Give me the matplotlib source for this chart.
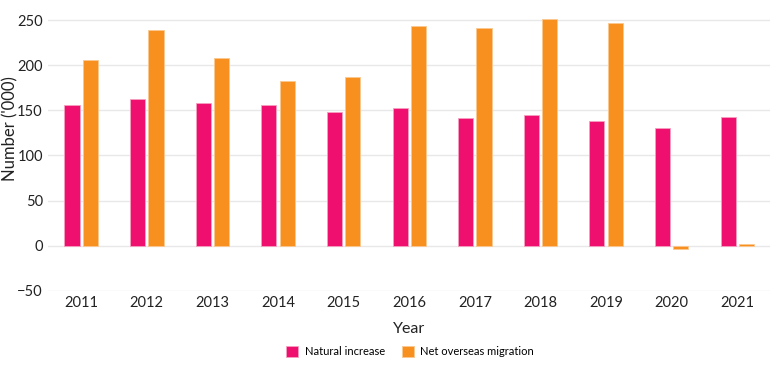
import matplotlib.pyplot as plt
import numpy as np

plt.rcParams["font.family"] = ["Lato", "DejaVu Sans"]

years = ["2011", "2012", "2013", "2014", "2015", "2016", "2017", "2018", "2019", "2020", "2021"]
natural_increase = [156, 163, 158, 156, 148, 153, 142, 145, 138, 130, 143]
net_overseas = [206, 239, 208, 182, 187, 243, 241, 251, 247, -4, 2]
yticks = [-50, 0, 50, 100, 150, 200, 250]

PINK = "#ee0f6e"
ORANGE = "#f7901e"

fig = plt.figure(figsize=(7.81, 3.71), dpi=100)
ax = fig.add_axes([0.062, 0.216, 0.924, 0.742])

x = np.arange(len(years))
w = 0.23
off = 0.14
ax.bar(x - off, natural_increase, w, color=PINK, edgecolor="#f6a0c0", linewidth=0.6,
       label="Natural increase", zorder=3)
ax.bar(x + off, net_overseas, w, color=ORANGE, edgecolor="#fbc890", linewidth=0.6,
       label="Net overseas migration", zorder=3)

ax.set_xlim(-0.5, len(years) - 0.5)
ax.set_ylim(-50, 255)
ax.set_xticks(x)
ax.set_xticklabels(years)
ax.set_yticks(yticks)
ax.grid(axis="y", color="#e8e8e8", linewidth=1, zorder=0)
ax.tick_params(length=0, labelsize=10.5, colors="#222222", pad=4)
for s in ax.spines.values():
    s.set_visible(False)

ax.set_xlabel("Year", fontsize=11.5, color="#222222", labelpad=8)
ax.set_ylabel("Number ('000)", fontsize=12, color="#222222")
ax.yaxis.set_label_coords(-0.042, 0.59)

leg = fig.legend(loc="center", bbox_to_anchor=(0.525, 0.052), ncol=2, frameon=False,
                 fontsize=8, handlelength=1.1, handleheight=1.1, columnspacing=1.5,
                 handletextpad=0.6)

fig.savefig("out.png", dpi=100)
